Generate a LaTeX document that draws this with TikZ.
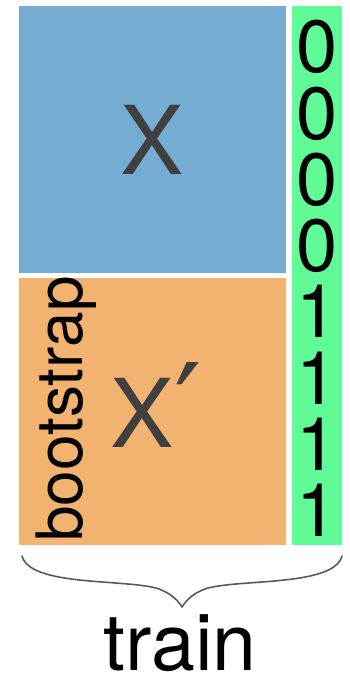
\documentclass[tikz,border=0pt]{standalone}
\usepackage{fontspec}
\setmainfont{TeX Gyre Heros}
\newfontfamily\primefont{DejaVu Sans}
\definecolor{setblue}{RGB}{117,172,209}
\definecolor{setorange}{RGB}{242,178,112}
\definecolor{labelgreen}{RGB}{96,250,150}
\definecolor{labelgray}{RGB}{64,64,64}
\definecolor{bracegray}{RGB}{90,90,90}
\tikzset{
  bigletter/.style={inner sep=0pt, text=labelgray, font=\fontsize{95}{95}\selectfont},
  digit/.style={inner sep=0pt, anchor=base, font=\fontsize{74}{74}\selectfont},
  sidelabel/.style={inner sep=0pt, rotate=90, font=\fontsize{64}{64}\selectfont},
  bottomlabel/.style={inner sep=0pt, anchor=base, font=\fontsize{79}{79}\selectfont},
  bracepath/.style={draw=bracegray, line width=1.6pt, line cap=round, line join=round}
}
\begin{document}
\begin{tikzpicture}[x=1pt, y=-1pt]
  \useasboundingbox (0,0) rectangle (349,676);
  % data blocks and label column
  \fill[setblue]   (19,6)   rectangle (286,273);
  \fill[setorange] (19,278) rectangle (286,545);
  \fill[labelgreen] (292,6) rectangle (342,545);
  % block labels
  \node[bigletter, anchor=base] (x) at (152.5,175) {X};
  \node[bigletter, anchor=base west] (xp) at (110.5,447)
    {X{\primefont\fontsize{122}{122}\selectfont\raisebox{-4pt}{′}}};
  \node[sidelabel] (boot) at (66,409) {bootstrap};
  % class labels
  \foreach \d [count=\i from 0] in {0,0,0,0,1,1,1,1}
    \node[digit] (d\i) at (317,{73+66.2*\i}) {\d};
  % brace under everything
  \coordinate (bl) at (22,556);
  \coordinate (tip) at (182,607);
  \coordinate (br) at (342,556);
  \draw[bracepath] (bl) .. controls (30,586) and (120,579) .. (156,588)
                        .. controls (169,592) and (177,599) .. (tip)
                        .. controls (187,599) and (195,592) .. (208,588)
                        .. controls (244,579) and (334,586) .. (br);
  \node[bottomlabel] (train) at (180,670) {train};
\end{tikzpicture}
\end{document}
